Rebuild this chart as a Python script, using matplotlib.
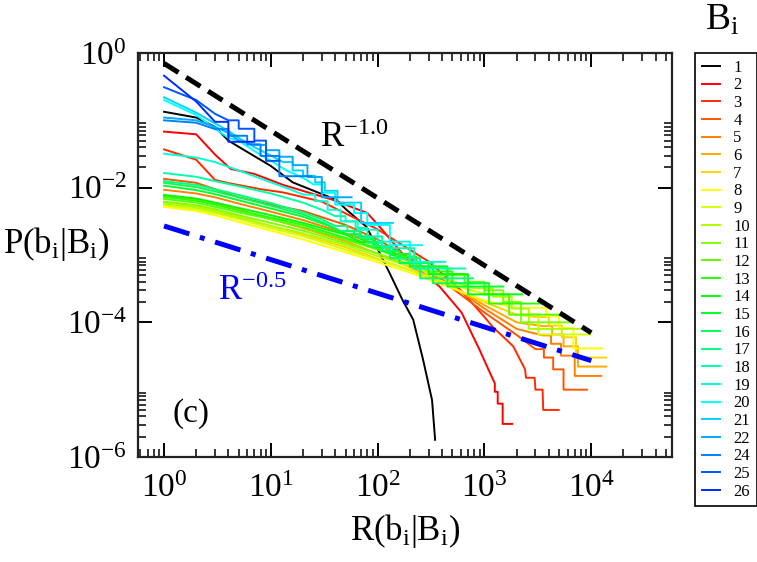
import colorsys
import numpy as np
import matplotlib
matplotlib.use('Agg')
import matplotlib.pyplot as plt
from matplotlib.ticker import FixedLocator, LogLocator, FuncFormatter, NullFormatter

plt.rcParams['font.family'] = 'Liberation Serif'
plt.rcParams['mathtext.fontset'] = 'custom'
plt.rcParams['mathtext.rm'] = 'Liberation Serif'
plt.rcParams['mathtext.it'] = 'Liberation Serif:italic'

# rank R(b_i|B_i) and probability P(b_i|B_i) for each B_i
r1 = [1, 2, 3, 4, 6, 10, 16, 27, 41, 51, 79, 105, 130, 172, 215, 266, 323, 345]
p1 = [0.134, 0.11, 0.08, 0.05, 0.034, 0.021, 0.012, 8.6e-3, 6.6e-3, 4.7e-3, 2.6e-3, 1.05e-3,
      5.3e-4, 2.1e-4, 1.1e-4, 2.8e-5, 7e-6, 1.8e-6]
r2 = [1, 2, 3, 4.2, 7, 13, 38, 80, 105, 190, 380, 610, 900, 1170, 1250, 1250, 1330, 1330,
      1480, 1480, 1820]
p2 = [0.068, 0.062, 0.031, 0.019, 0.016, 0.011, 6.6e-3, 4.2e-3, 2.6e-3, 8.5e-4, 3.4e-4, 1.4e-4,
      3.9e-5, 1.55e-5, 1.24e-5, 9.3e-6, 9.3e-6, 6.2e-6, 6.2e-6, 3.1e-6, 3.1e-6]
r3 = [1, 2, 3, 4, 8, 13, 30, 100, 300, 600, 1000, 1200, 1860, 2400, 2450, 2950, 3000, 3500,
      3550, 4950]
p3 = [0.037, 0.026, 0.013, 0.0117, 0.0095, 0.0085, 0.0062, 0.0024, 8e-4, 3e-4, 1.2e-4, 8.5e-5,
      4.4e-5, 2e-5, 1.5e-5, 1.5e-5, 1e-5, 1e-5, 5e-6, 5e-6]
r4 = [1, 2, 3, 5, 10, 20, 50, 100, 200, 500, 1000, 2000, 3000, 3600, 3600, 4400, 4400, 5500,
      5500, 9100]
p4 = [0.0135, 0.0118, 0.0095, 0.0072, 0.0056, 0.0045, 0.0028, 0.0017, 9e-4, 3.2e-4, 1.4e-4,
      6.5e-5, 4e-5, 4e-5, 3e-5, 3e-5, 2e-5, 2e-5, 1e-5, 1e-5]
r5 = [1, 2, 3, 5, 10, 20, 50, 100, 200, 500, 1000, 2000, 3500, 4200, 4200, 5200, 5200, 7000,
      7000, 12400]
p5 = [0.0093, 0.0082, 0.0072, 0.0058, 0.0044, 0.0033, 0.0021, 0.0014, 8.5e-4, 3.5e-4, 1.6e-4,
      8e-5, 6.4e-5, 6.4e-5, 4.8e-5, 4.8e-5, 3.2e-5, 3.2e-5, 1.6e-5, 1.6e-5]
r6 = [1, 2, 3, 5, 10, 20, 50, 100, 200, 500, 1000, 2000, 3500, 4300, 4300, 5500, 5500, 7500,
      7500, 13800]
p6 = [0.0075, 0.0066, 0.0058, 0.0048, 0.0034, 0.0025, 0.0016, 0.00105, 6.6e-4, 3.4e-4, 1.8e-4,
      1e-4, 8.8e-5, 8.8e-5, 6.6e-5, 6.6e-5, 4.4e-5, 4.4e-5, 2.2e-5, 2.2e-5]
r7 = [1, 2, 3, 5, 10, 20, 50, 100, 200, 500, 1000, 2000, 3000, 4000, 4000, 5300, 5300, 7200,
      7200, 13800]
p7 = [0.006, 0.0053, 0.0046, 0.0037, 0.0027, 0.002, 0.0013, 8.8e-4, 6e-4, 3.3e-4, 2e-4,
      1.3e-4, 1.2e-4, 1.2e-4, 9e-5, 9e-5, 6e-5, 6e-5, 3e-5, 3e-5]
r8 = [1, 2, 3, 5, 10, 20, 50, 100, 200, 500, 1000, 2000, 3800, 3800, 5000, 5000, 6800, 6800,
      12700]
p8 = [0.0052, 0.0045, 0.0039, 0.0031, 0.0023, 0.0017, 0.0011, 7.8e-4, 5.5e-4, 3.2e-4, 2.1e-4,
      1.64e-4, 1.64e-4, 1.23e-4, 1.23e-4, 8.2e-5, 8.2e-5, 4.1e-5, 4.1e-5]
r9 = [1, 2, 3, 5, 10, 20, 50, 100, 200, 500, 1000, 1500, 1500, 2200, 2200, 3200, 3200, 9800]
p9 = [0.0055, 0.0048, 0.0042, 0.0034, 0.0025, 0.0019, 0.0012, 8.5e-4, 6e-4, 3.6e-4,
      2.64e-4, 2.64e-4, 1.98e-4, 1.98e-4, 1.32e-4, 1.32e-4, 6.6e-5, 6.6e-5]
r10 = [1, 2, 3, 5, 10, 20, 50, 100, 200, 500, 800, 1200, 1200, 1800, 1800, 2600, 2600, 7800]
p10 = [0.0058, 0.0051, 0.0044, 0.0036, 0.0027, 0.0021, 0.0014, 9.6e-4, 6.8e-4, 4.1e-4,
       3.2e-4, 3.2e-4, 2.4e-4, 2.4e-4, 1.6e-4, 1.6e-4, 8e-5, 8e-5]
r11 = [1, 2, 3, 5, 10, 20, 50, 100, 200, 400, 700, 700, 1000, 1000, 1500, 1500, 2200, 2200, 6300]
p11 = [0.0062, 0.0055, 0.0048, 0.0039, 0.003, 0.0023, 0.0015, 0.00105, 7.3e-4, 5e-4, 5e-4,
       4e-4, 4e-4, 3e-4, 3e-4, 2e-4, 2e-4, 1e-4, 1e-4]
r12 = [1, 2, 3, 5, 10, 20, 50, 100, 200, 300, 450, 450, 650, 650, 1000, 1000, 1700, 1700, 5100]
p12 = [0.0068, 0.006, 0.0052, 0.0043, 0.0034, 0.0026, 0.0017, 0.0012, 8e-4, 6.5e-4, 6.5e-4,
       5.2e-4, 5.2e-4, 3.9e-4, 3.9e-4, 2.6e-4, 2.6e-4, 1.3e-4, 1.3e-4]
r13 = [1, 2, 3, 5, 10, 20, 50, 100, 150, 230, 230, 330, 330, 500, 500, 1100, 1100, 3400]
p13 = [0.0073, 0.0064, 0.0056, 0.0046, 0.0036, 0.0028, 0.0018, 0.00125, 9.5e-4, 9.5e-4,
       7.6e-4, 7.6e-4, 5.7e-4, 5.7e-4, 3.8e-4, 3.8e-4, 1.9e-4, 1.9e-4]
r14 = [1, 2, 3, 5, 10, 20, 50, 70, 100, 100, 140, 140, 200, 200, 300, 300, 700, 700, 2250]
p14 = [0.0078, 0.0069, 0.006, 0.005, 0.0039, 0.003, 0.002, 1.56e-3, 1.56e-3, 1.3e-3, 1.3e-3,
       1.04e-3, 1.04e-3, 7.8e-4, 7.8e-4, 5.2e-4, 5.2e-4, 2.6e-4, 2.6e-4]
r15 = [1, 2, 3, 5, 10, 20, 35, 50, 70, 70, 95, 95, 130, 130, 200, 200, 450, 450, 1500]
p15 = [0.0107, 0.0092, 0.008, 0.0065, 0.0049, 0.0037, 0.0027, 2.04e-3, 2.04e-3, 1.7e-3,
       1.7e-3, 1.36e-3, 1.36e-3, 1.02e-3, 1.02e-3, 6.8e-4, 6.8e-4, 3.4e-4, 3.4e-4]
r16 = [1, 2, 3, 5, 10, 20, 30, 45, 60, 60, 80, 80, 110, 110, 160, 160, 330, 330, 1100]
p16 = [0.0118, 0.0102, 0.0088, 0.0072, 0.0054, 0.004, 0.0031, 2.28e-3, 2.28e-3, 1.9e-3,
       1.9e-3, 1.52e-3, 1.52e-3, 1.14e-3, 1.14e-3, 7.6e-4, 7.6e-4, 3.8e-4, 3.8e-4]
r17 = [1, 2, 3, 5, 10, 20, 30, 40, 52, 52, 68, 68, 90, 90, 130, 130, 250, 250, 780]
p17 = [0.0125, 0.011, 0.0095, 0.0078, 0.0059, 0.0043, 0.0034, 2.7e-3, 2.7e-3, 2.25e-3,
       2.25e-3, 1.8e-3, 1.8e-3, 1.35e-3, 1.35e-3, 9e-4, 9e-4, 4.5e-4, 4.5e-4]
r18 = [1, 2, 3, 5, 10, 20, 30, 40, 50, 50, 62, 62, 80, 80, 110, 110, 220, 220, 660]
p18 = [0.0165, 0.0145, 0.0125, 0.0105, 0.0082, 0.006, 0.0047, 3.78e-3, 3.78e-3, 3.15e-3,
       3.15e-3, 2.52e-3, 2.52e-3, 1.89e-3, 1.89e-3, 1.26e-3, 1.26e-3, 6.3e-4, 6.3e-4]
r19 = [1, 2, 3, 5, 10, 15, 20, 26, 26, 34, 34, 45, 45, 65, 65, 100, 100, 200, 200, 430]
p19 = [0.032, 0.028, 0.024, 0.018, 0.012, 0.0095, 7.9e-3, 7.9e-3, 6.3e-3, 6.3e-3, 4.7e-3,
       4.7e-3, 3.16e-3, 3.16e-3, 2.37e-3, 2.37e-3, 1.58e-3, 1.58e-3, 7.9e-4, 7.9e-4]
r20 = [1, 2, 3, 4, 5, 7, 10, 14, 20, 25, 30, 30, 40, 40, 60, 60, 80, 80, 130, 130, 260]
p20 = [0.2, 0.12, 0.075, 0.055, 0.05, 0.035, 0.025, 0.018, 0.014, 0.0112, 0.0112, 8.4e-3,
       8.4e-3, 5.6e-3, 5.6e-3, 4.2e-3, 4.2e-3, 2.8e-3, 2.8e-3, 1.4e-3, 1.4e-3]
r21 = [1, 2, 3, 4, 5, 7, 10, 13, 16, 16, 20, 20, 26, 26, 32, 32, 42, 42, 70, 70, 139]
p21 = [0.22, 0.13, 0.09, 0.07, 0.055, 0.04, 0.03, 0.024, 0.024, 0.018, 0.018, 0.015, 0.015,
       0.012, 0.012, 9e-3, 9e-3, 6e-3, 6e-3, 3e-3, 3e-3]
r22 = [1, 2, 3, 4, 5, 7, 9, 9, 12, 12, 16, 16, 22, 22, 30, 30, 57]
p22 = [0.11, 0.1, 0.08, 0.065, 0.05, 0.043, 0.043, 0.036, 0.036, 0.0288, 0.0288, 0.0216,
       0.0216, 0.0144, 0.0144, 7.2e-3, 7.2e-3]
r24 = [1, 2, 3, 4, 4, 6, 6, 8, 8, 12, 12, 24]
p24 = [0.1, 0.092, 0.074, 0.074, 0.059, 0.059, 0.044, 0.044, 0.0296, 0.0296, 0.0148, 0.0148]
r25 = [1, 2, 3, 4, 5, 5, 7, 7, 9, 9, 12]
p25 = [0.31, 0.2, 0.125, 0.1, 0.1, 0.075, 0.075, 0.05, 0.05, 0.025, 0.025]
r26 = [1, 2, 3, 4, 4, 7]
p26 = [0.46, 0.19, 0.095, 0.095, 0.048, 0.048]

b_labels = [1, 2, 3, 4, 5, 6, 7, 8, 9, 10, 11, 12, 13, 14, 15, 16, 17, 18, 19, 20, 21, 22, 24, 25, 26]
ranks = [r1, r2, r3, r4, r5, r6, r7, r8, r9, r10, r11, r12, r13, r14, r15, r16, r17, r18,
         r19, r20, r21, r22, r24, r25, r26]
probs = [p1, p2, p3, p4, p5, p6, p7, p8, p9, p10, p11, p12, p13, p14, p15, p16, p17, p18,
         p19, p20, p21, p22, p24, p25, p26]

# guide power laws
ref_r = [1, 1e4]
ref_slope1 = [0.7, 7e-5]
ref_slope05 = [2.7e-3, 2.7e-5]

fig = plt.figure(figsize=(7.57, 5.62), dpi=100)
ax = fig.add_axes([138 / 757, 1 - 457 / 562, 534 / 757, 404 / 562])

for i, (b, r, p) in enumerate(zip(b_labels, ranks, probs)):
    if b == 1:
        col = 'black'
    else:
        col = colorsys.hsv_to_rgb((i - 1) * 10 / 360.0, 1.0, 1.0)
    ax.plot(r, p, color=col, lw=1.4, label=str(b))

ax.plot(ref_r, ref_slope1, color='black', lw=3.6, dashes=(3.4, 1.8), dash_capstyle='butt', zorder=5)
ax.plot(ref_r, ref_slope05, color='blue', lw=3.6, dashes=(5.3, 2.2, 1.0, 2.2),
        dash_capstyle='butt', zorder=5)

ax.set_xscale('log')
ax.set_yscale('log')
ax.set_xlim(0.57, 5.7e4)
ax.set_ylim(1e-6, 1)

ax.xaxis.set_major_locator(LogLocator(base=10, numticks=20))
ax.xaxis.set_minor_locator(LogLocator(base=10, subs=np.arange(2, 10), numticks=20))
ax.yaxis.set_major_locator(FixedLocator([1e-6, 1e-4, 1e-2, 1]))
ax.yaxis.set_minor_locator(FixedLocator([k * 10.0 ** e for e in (-6, -4, -2) for k in range(2, 10)]))
fmt = FuncFormatter(lambda v, pos: r'$\mathregular{10^{%d}}$' % round(np.log10(v)))
ax.xaxis.set_major_formatter(fmt)
ax.yaxis.set_major_formatter(fmt)
ax.xaxis.set_minor_formatter(NullFormatter())
ax.yaxis.set_minor_formatter(NullFormatter())
ax.tick_params(which='both', direction='in', top=True, right=True, labelsize=24)
ax.tick_params(which='major', length=10, width=1.4)
ax.tick_params(which='minor', length=5.5, width=1.1)
ax.tick_params(axis='x', pad=12)
ax.tick_params(axis='y', pad=8)
for s in ax.spines.values():
    s.set_linewidth(1.6)
    s.set_color('#222222')

fig.text(320 / 757, 1 - 147 / 562, r'$\mathregular{R^{-1.0}}$', fontsize=25, color='black')
fig.text(218 / 757, 1 - 300 / 562, r'$\mathregular{R^{-0.5}}$', fontsize=25, color='blue')
fig.text(172 / 757, 1 - 422 / 562, '(c)', fontsize=24)
fig.text(3 / 757, 1 - 253 / 562, r'$\mathregular{P(b_i|B_i)}$', fontsize=25)
fig.text(405 / 757, 1 - 540 / 562, r'$\mathregular{R(b_i|B_i)}$', fontsize=25, ha='center')
fig.text(705 / 757, 1 - 30 / 562, r'$\mathregular{B_i}$', fontsize=27)

leg = fig.legend(loc='upper left', bbox_to_anchor=(695 / 757, 1 - 53 / 562), borderaxespad=0,
                 fontsize=12, handlelength=1.1, handletextpad=0.8, borderpad=0.4,
                 labelspacing=0.1, fancybox=False, framealpha=1)
leg.get_frame().set_edgecolor('black')
leg.get_frame().set_linewidth(1.2)

fig.savefig('out.png', dpi=100)
